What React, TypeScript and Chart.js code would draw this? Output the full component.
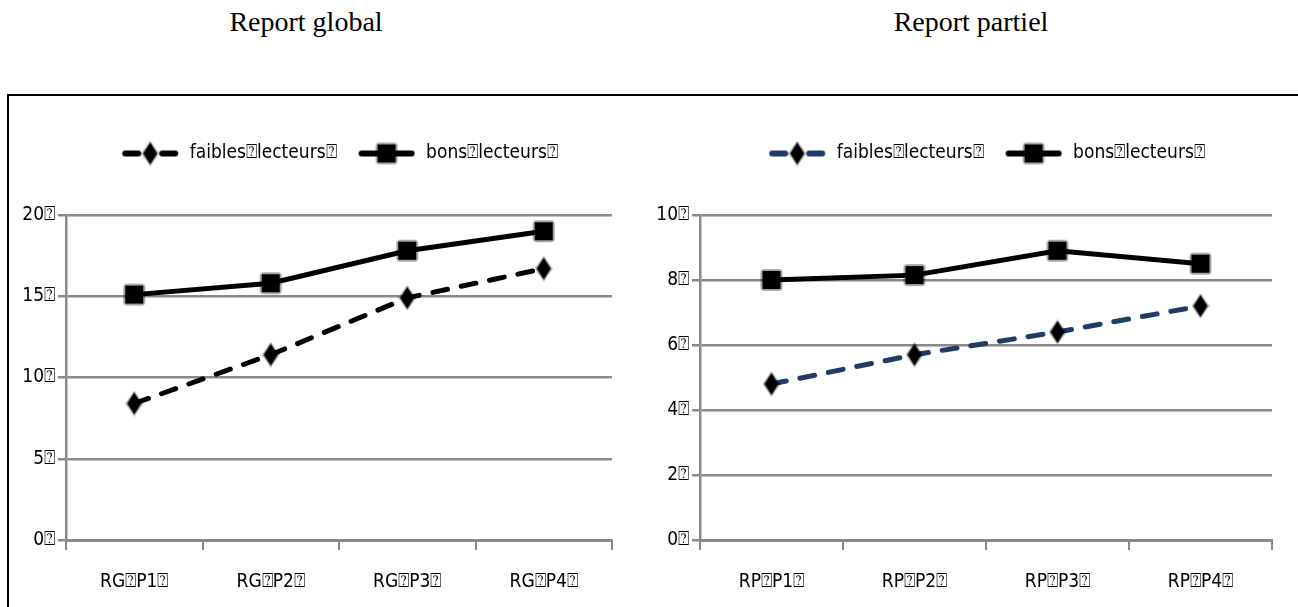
import React, { useEffect, useRef } from 'react';
import { Chart, registerables } from 'chart.js';

Chart.register(...registerables);

const Q = '\u2370';

const leftTitle = 'Report global';
const rightTitle = 'Report partiel';
const seriesNames = [`faibles${Q}lecteurs${Q}`, `bons${Q}lecteurs${Q}`];

const leftCategories = [`RG${Q}P1${Q}`, `RG${Q}P2${Q}`, `RG${Q}P3${Q}`, `RG${Q}P4${Q}`];
const rightCategories = [`RP${Q}P1${Q}`, `RP${Q}P2${Q}`, `RP${Q}P3${Q}`, `RP${Q}P4${Q}`];

const leftFaibles = [8.4, 11.4, 14.9, 16.7];
const leftBons = [15.1, 15.8, 17.8, 19.0];
const rightFaibles = [4.8, 5.7, 6.4, 7.2];
const rightBons = [8.0, 8.15, 8.9, 8.5];

const leftTickMax = 20;
const leftTickStep = 5;
const rightTickMax = 10;
const rightTickStep = 2;

const FONT = '"Liberation Sans Narrow", "DejaVu Sans Condensed", "Noto Sans", sans-serif';
const GRID = '#8a8a8a';

function makeSquare(): HTMLCanvasElement {
  const c = document.createElement('canvas');
  c.width = 24;
  c.height = 24;
  const g = c.getContext('2d')!;
  g.fillStyle = 'rgba(0,0,0,0.35)';
  g.beginPath();
  g.roundRect(1, 1, 22, 22, 4);
  g.fill();
  g.fillStyle = '#000';
  g.fillRect(3, 3, 18, 18);
  return c;
}

function makeDiamond(): HTMLCanvasElement {
  const c = document.createElement('canvas');
  c.width = 18;
  c.height = 26;
  const g = c.getContext('2d')!;
  g.fillStyle = 'rgba(0,0,0,0.3)';
  g.beginPath();
  g.moveTo(9, 0);
  g.lineTo(18, 13);
  g.lineTo(9, 26);
  g.lineTo(0, 13);
  g.closePath();
  g.fill();
  g.fillStyle = '#000';
  g.beginPath();
  g.moveTo(9, 2);
  g.lineTo(16, 13);
  g.lineTo(9, 24);
  g.lineTo(2, 13);
  g.closePath();
  g.fill();
  return c;
}

function makeLegendImg(kind: 'diamond' | 'square', color: string): HTMLCanvasElement {
  const c = document.createElement('canvas');
  c.width = 58;
  c.height = 26;
  const g = c.getContext('2d')!;
  g.strokeStyle = color;
  g.lineWidth = 6;
  g.lineCap = 'round';
  if (kind === 'diamond') {
    g.beginPath();
    g.moveTo(4, 13);
    g.lineTo(17, 13);
    g.moveTo(41, 13);
    g.lineTo(54, 13);
    g.stroke();
    g.drawImage(makeDiamond(), 20, 0);
  } else {
    g.beginPath();
    g.moveTo(4, 13);
    g.lineTo(54, 13);
    g.stroke();
    g.drawImage(makeSquare(), 17, 1);
  }
  return c;
}

function buildConfig(
  cats: string[],
  faibles: number[],
  bons: number[],
  faiblesColor: string,
  yMax: number,
  yStep: number,
  yWidth: number
): any {
  const diamond = makeDiamond();
  const square = makeSquare();
  const legendImgs = [makeLegendImg('diamond', faiblesColor), makeLegendImg('square', '#000')];
  return {
    type: 'line',
    data: {
      labels: cats,
      datasets: [
        {
          label: seriesNames[0],
          data: faibles,
          borderColor: faiblesColor,
          backgroundColor: faiblesColor,
          borderWidth: 5,
          borderDash: [15, 14],
          borderCapStyle: 'round',
          pointStyle: diamond,
          pointRadius: 10,
          tension: 0,
          fill: false,
        },
        {
          label: seriesNames[1],
          data: bons,
          borderColor: '#000',
          backgroundColor: '#000',
          borderWidth: 5,
          pointStyle: square,
          pointRadius: 10,
          tension: 0,
          fill: false,
        },
      ],
    },
    options: {
      animation: false,
      responsive: false,
      maintainAspectRatio: false,
      layout: { padding: { top: 24, right: 18, left: 0, bottom: 0 } },
      plugins: {
        tooltip: { enabled: false },
        legend: {
          position: 'top',
          fullSize: false,
          labels: {
            usePointStyle: true,
            pointStyleWidth: 60,
            padding: 20,
            color: '#000',
            font: { family: FONT, size: 19 },
            generateLabels: (chart: any) => {
              const items = (Chart.defaults as any).plugins.legend.labels.generateLabels(chart);
              return items.map((it: any, i: number) => ({ ...it, pointStyle: legendImgs[i], lineWidth: 0 }));
            },
          },
        },
        subtitle: {
          display: true,
          text: '',
          weight: 500,
          font: { size: 1, lineHeight: 1 },
          padding: { top: 0, bottom: 41 },
        },
      },
      scales: {
        x: {
          type: 'category',
          offset: true,
          grid: {
            offset: true,
            drawOnChartArea: false,
            drawTicks: true,
            tickLength: 10,
            color: GRID,
            lineWidth: 2,
          },
          border: { color: GRID, width: 3 },
          ticks: {
            color: '#000',
            font: { family: FONT, size: 19 },
            padding: 21,
            maxRotation: 0,
            autoSkip: false,
          },
          afterFit: (s: any) => {
            s.height = 67;
          },
        },
        y: {
          min: 0,
          max: yMax,
          grid: { color: GRID, lineWidth: 2.5, drawTicks: true, tickLength: 8 },
          border: { color: GRID, width: 2.5 },
          ticks: {
            stepSize: yStep,
            color: '#000',
            font: { family: FONT, size: 19 },
            padding: 3,
            callback: (v: any) => `${v}${Q}`,
          },
          afterFit: (s: any) => {
            s.width = yWidth;
          },
        },
      },
    },
  };
}

function LineChart(props: {
  cats: string[];
  faibles: number[];
  bons: number[];
  color: string;
  yMax: number;
  yStep: number;
  yWidth: number;
  width: number;
  height: number;
  style: React.CSSProperties;
}) {
  const ref = useRef<HTMLCanvasElement>(null);
  useEffect(() => {
    if (!ref.current) return;
    const chart = new Chart(
      ref.current,
      buildConfig(props.cats, props.faibles, props.bons, props.color, props.yMax, props.yStep, props.yWidth)
    );
    return () => chart.destroy();
  }, []);
  return (
    <canvas
      ref={ref}
      width={props.width}
      height={props.height}
      style={{ position: 'absolute', width: props.width, height: props.height, ...props.style }}
    />
  );
}

export default function App() {
  const titleStyle: React.CSSProperties = {
    position: 'absolute',
    top: 4,
    width: 400,
    textAlign: 'center',
    fontFamily: '"Liberation Serif", "Times New Roman", serif',
    fontSize: 28,
    lineHeight: '36px',
    color: '#000',
    whiteSpace: 'nowrap',
  };
  return (
    <div
      style={{
        position: 'fixed',
        left: 0,
        top: 0,
        width: 1298,
        height: 607,
        overflow: 'hidden',
        background: '#fff',
      }}
    >
      <div style={{ ...titleStyle, left: 306 - 200 }}>{leftTitle}</div>
      <div style={{ ...titleStyle, left: 971 - 200 }}>{rightTitle}</div>
      <div
        style={{
          position: 'absolute',
          left: 7,
          top: 94,
          width: 1400,
          height: 700,
          borderLeft: '2px solid #000',
          borderTop: '2px solid #000',
        }}
      />
      <LineChart
        cats={leftCategories}
        faibles={leftFaibles}
        bons={leftBons}
        color="#000"
        yMax={leftTickMax}
        yStep={leftTickStep}
        yWidth={56}
        width={620}
        height={507}
        style={{ left: 10, top: 100 }}
      />
      <LineChart
        cats={rightCategories}
        faibles={rightFaibles}
        bons={rightBons}
        color="#1f3b66"
        yMax={rightTickMax}
        yStep={rightTickStep}
        yWidth={60}
        width={650}
        height={507}
        style={{ left: 640, top: 100 }}
      />
    </div>
  );
}
